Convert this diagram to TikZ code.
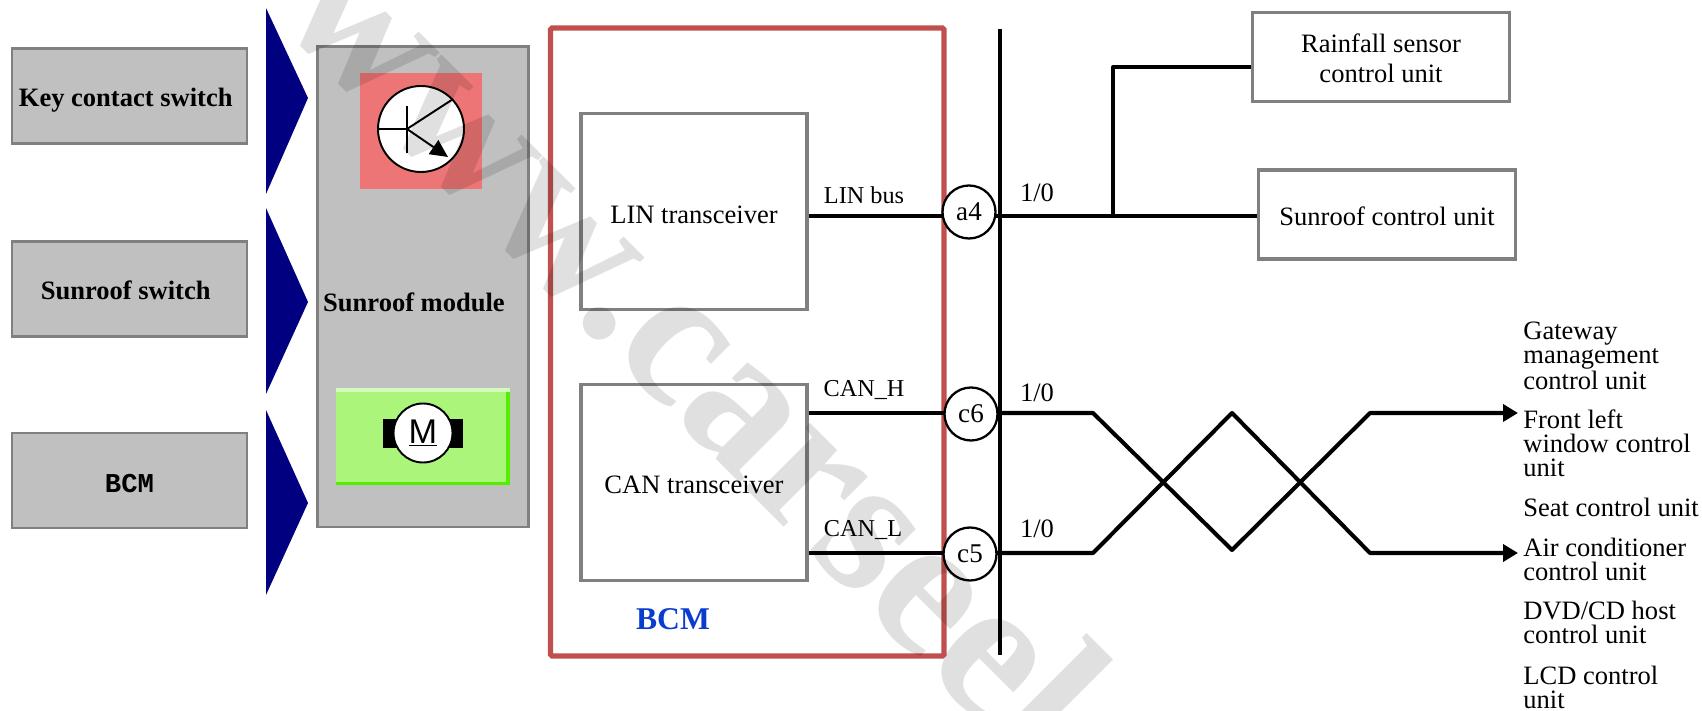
\documentclass[tikz,border=0pt]{standalone}
\usepackage{fontspec}
\setmainfont{Liberation Serif}
\newfontfamily\monofnt{Liberation Mono}
\newfontfamily\sansfnt{Liberation Sans}
\usetikzlibrary{arrows.meta}
\definecolor{boxgray}{HTML}{C0C0C0}
\definecolor{edgegray}{HTML}{808080}
\definecolor{deepnavy}{HTML}{000080}
\definecolor{bcmred}{HTML}{C0504D}
\definecolor{bcmblue}{HTML}{0A3CD0}
\definecolor{transred}{HTML}{EE7575}
\definecolor{motorgreen}{HTML}{ABF57B}
\definecolor{motoredge}{HTML}{55EE00}
\definecolor{motorlight}{HTML}{D5FABD}
\newcommand{\lowr}[1]{\rule{0pt}{#1pt}}

\begin{document}
\begin{tikzpicture}[
  inbox/.style={draw=edgegray, fill=boxgray, line width=1.7pt, minimum width=4.7cm, minimum height=1.9cm, inner sep=0pt, align=center, font=\fontsize{15.1}{18}\selectfont\bfseries},
  unitbox/.style={draw=edgegray, fill=white, line width=2.2pt, minimum width=5.14cm, minimum height=1.78cm, inner sep=0pt, align=center, font=\fontsize{15.1}{17}\selectfont},
  xcvrbox/.style={draw=edgegray, fill=white, line width=2.2pt, minimum width=4.52cm, minimum height=3.92cm, inner sep=0pt, align=center, font=\fontsize{15.1}{18}\selectfont},
  pin/.style={circle, draw, fill=white, line width=1.3pt, minimum size=1.06cm, inner sep=0pt, font=\fontsize{15.4}{18}\selectfont},
  wire/.style={line width=2.3pt, line join=round},
  arr/.style={wire, -{Triangle[length=8.5pt, width=9.6pt]}},
  flag/.style={fill=deepnavy},
  sig/.style={inner sep=0pt, font=\fontsize{13.8}{16}\selectfont},
  val/.style={inner sep=0pt, font=\fontsize{15.1}{18}\selectfont},
  dest/.style={anchor=west, inner sep=0pt, align=left, font=\fontsize{15.1}{13.7}\selectfont}
]
\useasboundingbox (0,0) rectangle (34.04,14.2);

% inputs on the left
\node[inbox] (key) at (2.59,12.27) {\lowr{15.2}Key contact switch\hspace*{4.3pt}};
\node[inbox] (roofsw) at (2.59,8.42) {\lowr{11.6}Sunroof switch\hspace*{4.3pt}};
\node[inbox, font=\fontsize{15.5}{18}\selectfont\monofnt\bfseries] (bcmin) at (2.59,4.59) {\lowr{13.9}BCM};

\fill[flag] (5.32,14.04) -- (6.16,12.24) -- (5.32,10.32) -- cycle;
\fill[flag] (5.32,10.04) -- (6.16,8.16) -- (5.32,6.32) -- cycle;
\fill[flag] (5.32,6.0) -- (6.16,4.14) -- (5.32,2.3) -- cycle;

% sunroof module
\node[draw=edgegray, fill=boxgray, line width=1.7pt, minimum width=4.22cm, minimum height=9.6cm] (module) at (8.46,8.46) {};
\node[inner sep=0pt, font=\fontsize{15.1}{18}\selectfont\bfseries] (modlabel) at (8.28,8.16) {Sunroof module};

\node[fill=transred, minimum width=2.44cm, minimum height=2.32cm] (transbg) at (8.42,11.58) {};
\node[circle, draw, fill=white, line width=1.1pt, minimum size=1.72cm, inner sep=0pt] (trans) at (8.42,11.62) {};
\coordinate (bjt) at (8.14,11.62);
\draw[line width=1.1pt] (8.14,12.08) -- (8.14,11.14);
\draw[line width=1.1pt] (trans.west) -- (bjt);
\draw[line width=1.1pt] (bjt) -- (trans.43);
\draw[line width=1.1pt, -{Triangle[length=10pt, width=9.5pt]}] (bjt) -- (8.96,11.06);

\node[fill=motorgreen, minimum width=3.48cm, minimum height=1.94cm] (motorbg) at (8.46,5.47) {};
\fill[motoredge] (motorbg.south west) rectangle ([yshift=0.07cm]motorbg.south east);
\fill[motoredge] ([xshift=-0.09cm]motorbg.south east) rectangle (motorbg.north east);
\fill[motorlight] (motorbg.north west) rectangle ([yshift=-0.08cm]motorbg.north east);
\node[fill=black, minimum width=1.6cm, minimum height=0.58cm] (poles) at (8.46,5.53) {};
\node[circle, draw, fill=white, line width=1.1pt, minimum size=1.18cm, inner sep=0pt, font=\fontsize{19.5}{22}\selectfont\sansfnt] (motor) at (8.46,5.54) {\underline{M}};

% BCM
\node[draw=bcmred, line width=3.1pt, rounded corners=1pt, minimum width=7.87cm, minimum height=12.56cm] (bcm) at (14.945,7.36) {};
\node[xcvrbox] (lin) at (13.88,9.97) {\lowr{14}LIN transceiver};
\node[xcvrbox] (can) at (13.88,4.55) {\lowr{12.8}CAN transceiver};
\node[inner sep=0pt, text=bcmblue, font=\fontsize{18}{21}\selectfont\bfseries] (bcmlabel) at (13.46,1.82) {BCM};

% bus and pins
\coordinate (bustop) at (20,13.62);
\coordinate (busbot) at (20,1.1);
\coordinate (linlevel) at (20,9.88);
\coordinate (canhlevel) at (20,5.94);
\coordinate (canllevel) at (20,3.14);
\draw[wire] (bustop) -- (busbot);

\draw[wire] (lin.east |- linlevel) -- (linlevel);
\draw[wire] (can.east |- canhlevel) -- (canhlevel);
\draw[wire] (can.east |- canllevel) -- (canllevel);

\node[pin] (a4) at (19.38,9.96) {a4};
\node[pin] (c6) at (19.42,5.92) {c6};
\node[pin] (c5) at (19.40,3.12) {c5};

\node[sig] (linbus) at (17.28,10.29) {LIN bus};
\node[sig] (canh) at (17.28,6.39) {CAN\_H};
\node[sig] (canl) at (17.26,3.59) {CAN\_L};
\node[val] (lin10) at (20.74,10.34) {1/0};
\node[val] (canh10) at (20.74,6.34) {1/0};
\node[val] (canl10) at (20.74,3.62) {1/0};

% LIN side
\node[unitbox] (rain) at (27.62,13.06) {\lowr{12}Rainfall sensor\\control unit};
\node[unitbox] (roofunit) at (27.74,9.91) {\lowr{12.8}Sunroof control unit};
\coordinate (tap) at (22.26,9.88);
\draw[wire] (linlevel) -- (roofunit.west |- linlevel);
\draw[wire] (tap) |- (rain.west |- 0,12.86);

% CAN side
\node[dest] (gateway) at (30.46,7.08) {Gateway\\management\\control unit};
\node[dest] (window) at (30.46,5.34) {Front left\\window control\\unit};
\node[dest] (seat) at (30.46,4.06) {Seat control unit};
\node[dest] (air) at (30.46,3.02) {Air conditioner\\control unit};
\node[dest] (dvd) at (30.46,1.76) {DVD/CD host\\control unit};
\node[dest] (lcd) at (30.46,0.46) {LCD control\\unit};
\coordinate (arrh) at (30.36,5.94);
\coordinate (arrl) at (30.36,3.14);
\draw[arr] (canhlevel) -- (21.86,5.94) -- (24.64,3.2) -- (27.4,5.94) -- (arrh);
\draw[arr] (canllevel) -- (21.86,3.14) -- (24.64,5.94) -- (27.4,3.14) -- (arrl);

% watermark
\node[inner sep=0pt, rotate=-45, anchor=base west, opacity=0.12, font=\fontsize{114}{114}\selectfont\bfseries] (mark) at (5.47,13.87) {www.carseel};
\end{tikzpicture}
\end{document}
